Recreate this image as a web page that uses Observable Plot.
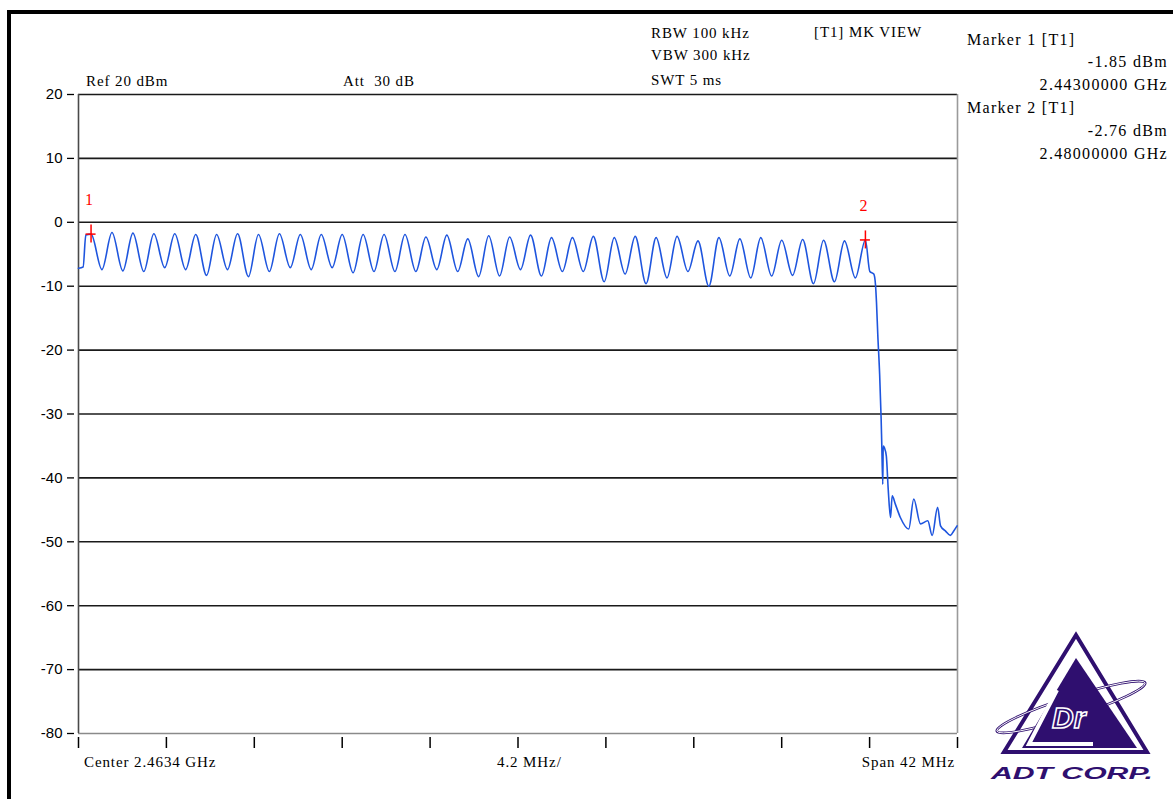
<!DOCTYPE html>
<html>
<head>
<meta charset="utf-8">
<script src="https://cdn.jsdelivr.net/npm/d3@7"></script>
<script src="https://cdn.jsdelivr.net/npm/@observablehq/plot@0.6"></script>
<style>
html,body{margin:0;padding:0;background:#fff;}
body{width:1173px;height:799px;position:relative;overflow:hidden;}
#frame{position:absolute;left:7px;top:10px;width:1200px;height:820px;border-top:4px solid #000;border-left:4px solid #000;box-sizing:border-box;}
#chart{position:absolute;left:0;top:0;}
#logo{position:absolute;left:0;top:0;}
.t{position:absolute;font-family:"Liberation Serif","Times New Roman",serif;font-size:15px;letter-spacing:0.9px;line-height:20px;white-space:pre;color:#000;}
.m{font-size:16px;letter-spacing:1.3px;}
.r{text-align:right;}
</style>
</head>
<body>
<div id="frame"></div>
<div id="chart"></div>
<svg id="logo" width="1173" height="799" viewBox="0 0 1173 799">
  <polygon points="1076,635 1004,752 1147,752" fill="#fff" stroke="#2f0f6f" stroke-width="4"/>
  <ellipse cx="1071" cy="707" rx="78" ry="10" transform="rotate(-18 1071 707)" fill="none" stroke="#2f0f6f" stroke-width="2.6"/>
  <ellipse cx="1071" cy="707" rx="78" ry="10" transform="rotate(-18 1071 707)" fill="none" stroke="#fff" stroke-width="0.9"/>
  <polygon points="1076,658 1022,748 1137,748" fill="#2f0f6f"/>
  <polyline points="1057,690 1029,744 1093,744" fill="none" stroke="#fff" stroke-width="4"/>
  <text x="1052" y="728" font-family="Liberation Sans, Arial, sans-serif" font-weight="bold" font-style="italic" font-size="30" fill="#2f0f6f" stroke="#fff" stroke-width="1.5">Dr</text>
  <text x="991" y="779" font-family="Liberation Sans, Arial, sans-serif" font-weight="bold" font-style="italic" font-size="16" fill="#2f0f6f" textLength="162" lengthAdjust="spacingAndGlyphs">ADT CORP.</text>
</svg>
<script>
// ---------- data ----------
const centerGHz = 2.4634;
const spanGHz = 0.042;
const xTicks = [2.4424, 2.4466, 2.4508, 2.4550, 2.4592, 2.4634, 2.4676, 2.4718, 2.4760, 2.4802, 2.4844];
const yTicks = [20, 10, 0, -10, -20, -30, -40, -50, -60, -70, -80];

// trace start (before first channel)
const leadFreqs  = [2.4424, 2.44262, 2.44275];
const leadLevels = [-7.2, -7.0, -2.0];

// channel peaks (1 MHz spacing)
const channelFreqs = [2.443, 2.444, 2.445, 2.446, 2.447, 2.448, 2.449, 2.450, 2.451, 2.452,
  2.453, 2.454, 2.455, 2.456, 2.457, 2.458, 2.459, 2.460, 2.461, 2.462,
  2.463, 2.464, 2.465, 2.466, 2.467, 2.468, 2.469, 2.470, 2.471, 2.472,
  2.473, 2.474, 2.475, 2.476, 2.477, 2.478, 2.479, 2.480];
const peakLevels = [-1.85, -1.6, -1.7, -1.8, -1.8, -1.9, -1.9, -1.8, -1.9, -1.8,
  -1.9, -1.9, -1.9, -1.9, -1.9, -1.9, -2.3, -2.0, -2.6, -2.1,
  -2.3, -2.0, -2.4, -2.4, -2.2, -2.4, -2.2, -2.4, -2.2, -2.9,
  -2.4, -2.6, -2.4, -2.8, -2.7, -2.8, -2.9, -2.76];

// troughs between channels
const troughFreqs = [2.44352, 2.44452, 2.44552, 2.44652, 2.44752, 2.44852, 2.44952, 2.45052, 2.45152, 2.45252,
  2.45352, 2.45452, 2.45552, 2.45652, 2.45752, 2.45852, 2.45952, 2.46052, 2.46152, 2.46252,
  2.46352, 2.46452, 2.46552, 2.46652, 2.46752, 2.46852, 2.46952, 2.47052, 2.47152, 2.47252,
  2.47352, 2.47452, 2.47552, 2.47652, 2.47752, 2.47852, 2.47952];
const troughLevels = [-7.4, -7.6, -7.7, -7.1, -7.4, -8.3, -7.4, -8.5, -7.7, -7.1,
  -7.4, -7.1, -7.9, -7.7, -7.7, -7.7, -7.4, -7.7, -8.5, -8.4,
  -7.4, -8.4, -7.7, -7.7, -9.3, -8.1, -9.6, -8.7, -7.7, -10.0,
  -8.4, -8.7, -8.4, -8.3, -9.6, -9.3, -8.7];

// band edge roll-off
const tailFreqs = [2.48021, 2.48040, 2.48048, 2.48053, 2.48059, 2.48068, 2.48075, 2.48078, 2.48083, 2.48085,
  2.48091, 2.48100, 2.48109, 2.48120, 2.48128, 2.48143, 2.48167, 2.48207, 2.48231, 2.48263,
  2.48298, 2.48319, 2.48345, 2.48359, 2.48382, 2.48406, 2.48422, 2.48438];
const tailLevels = [-7.7, -8.1, -9.7, -12.6, -17.5, -23.8, -30.6, -34.5, -41.0, -35.0,
  -35.3, -36.6, -41.8, -46.2, -42.8, -44.1, -46.2, -48.0, -43.3, -47.2,
  -46.7, -49.0, -44.6, -47.5, -48.3, -49.0, -48.3, -47.5];

// markers
const markerLabels = ["1", "2"];
const markerFreqs = [2.443, 2.480];
const markerLevels = [-1.85, -2.76];

// text
const refText = ["Ref 20 dBm", "Att  30 dB"];
const sweepText = ["RBW 100 kHz", "VBW 300 kHz", "SWT 5 ms"];
const modeText = "[T1] MK VIEW";
const markerText = ["Marker 1 [T1]", "-1.85 dBm", "2.44300000 GHz", "Marker 2 [T1]", "-2.76 dBm", "2.48000000 GHz"];
const footerText = ["Center 2.4634 GHz", "4.2 MHz/", "Span 42 MHz"];

// ---------- build ----------
const trace = [];
leadFreqs.forEach((f, i) => trace.push({f, dbm: leadLevels[i]}));
channelFreqs.forEach((f, i) => {
  trace.push({f, dbm: peakLevels[i]});
  if (i < troughFreqs.length) trace.push({f: troughFreqs[i], dbm: troughLevels[i]});
});
tailFreqs.forEach((f, i) => trace.push({f, dbm: tailLevels[i]}));

const markers = markerLabels.map((label, i) => ({label, f: markerFreqs[i], dbm: markerLevels[i]}));
const xDomain = [centerGHz - spanGHz / 2, centerGHz + spanGHz / 2];

const chart = Plot.plot({
  width: 1173, height: 799,
  marginLeft: 78, marginRight: 216, marginTop: 94, marginBottom: 66,
  x: {domain: xDomain, axis: null},
  y: {domain: [-80, 20], axis: null},
  style: {fontFamily: '"Liberation Sans", Arial, sans-serif', fontSize: "15px", background: "transparent", color: "#000"},
  marks: [
    Plot.gridY(yTicks.filter(v => v > -80), {stroke: "#1a1a1a", strokeOpacity: 1, strokeWidth: 1.6}),
    Plot.ruleY([-80], {stroke: "#8a8a8a", strokeWidth: 1.6}),
    Plot.ruleX([xDomain[0]], {stroke: "#4a4a4a", strokeWidth: 1.6}),
    Plot.ruleX([xDomain[1]], {stroke: "#9a9a9a", strokeWidth: 1.6}),
    Plot.axisY(yTicks, {anchor: "left", tickSize: 7, dx: -4, tickPadding: 5, tickFormat: d => String(d), label: null, fontSize: 15, strokeWidth: 1.3}),
    Plot.axisX(xTicks, {anchor: "bottom", tickSize: 11, dy: 4, tickFormat: () => "", label: null, strokeWidth: 1.5}),
    Plot.line(trace, {x: "f", y: "dbm", stroke: "#1e55de", strokeWidth: 1.6, curve: "monotone-x"}),
    Plot.ruleX(markers, {x: "f", y1: "dbm", y2: "dbm", insetTop: -9, insetBottom: -9, stroke: "#ff0000", strokeWidth: 1.5}),
    Plot.ruleY(markers, {y: "dbm", x1: "f", x2: "f", insetLeft: -5, insetRight: -5, stroke: "#ff0000", strokeWidth: 1.5}),
    Plot.text(markers, {x: "f", y: "dbm", text: "label", dx: -2, dy: -34, fill: "#ff0000", fontSize: 16, fontFamily: '"Liberation Serif", serif'})
  ]
});
document.getElementById("chart").appendChild(chart);

// ---------- text overlays ----------
function addText(str, left, top, cls, right) {
  const d = document.createElement("div");
  d.className = "t" + (cls ? " " + cls : "");
  d.textContent = str;
  if (right != null) { d.style.right = right + "px"; d.classList.add("r"); }
  else d.style.left = left + "px";
  d.style.top = top + "px";
  document.body.appendChild(d);
}
addText(refText[0], 86, 71);
addText(refText[1], 343, 71);
[23, 45, 70].forEach((t, i) => addText(sweepText[i], 651, t));
addText(modeText, 814, 22);
const mTops = [30, 52, 75, 98, 121, 144];
markerText.forEach((s, i) => {
  if (i % 3 === 0) addText(s, 967, mTops[i], "m");
  else addText(s, null, mTops[i], "m", 5);
});
addText(footerText[0], 84, 752);
addText(footerText[1], 497, 752);
addText(footerText[2], null, 752, null, 1173 - 955);
</script>
</body>
</html>
